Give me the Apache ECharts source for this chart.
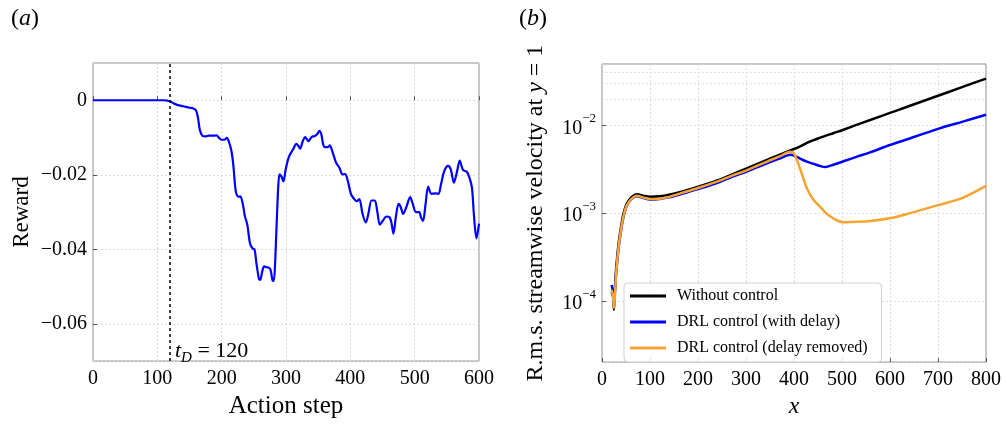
<!DOCTYPE html>
<html>
<head>
<meta charset="utf-8">
<script src="https://cdn.jsdelivr.net/npm/echarts@6/dist/echarts.min.js"></script>
<style>
html,body{margin:0;padding:0;background:#fff;}
#chart{width:1006px;height:424px;}
</style>
</head>
<body>
<div id="chart"></div>
<script>
// ---------- Panel (a): reward vs action step ----------
const actionSteps = [0,50,100,110,115,120,125,132,140,150,156,160,163,166,170,175,180,188,192,196,200,204,208,211,215,218,222,226,229,233,236,240,244,248,251,254,258,260,263,266,270,273,276,279,281,283,285.5,288,290,293,296,299,303,306,311,316,319,322,326,330,335,340,345,349,352,355,358,361,365,368,372,378,383,388,392,396,401,406,410,414,419,424,428,433,438,442,446,451,456,461,464,467,471,475,478,482,487,493,497,502,507,510,513,517,521,526,532,537,541,546,552,556,561,566,570,575,581,585,589,592,596,600];
const rewards = [0,0,0,0,-0.0001,-0.0003,-0.0008,-0.0013,-0.0016,-0.002,-0.0022,-0.0027,-0.0045,-0.0079,-0.0095,-0.0097,-0.0095,-0.0095,-0.0094,-0.0101,-0.0106,-0.0106,-0.0101,-0.011,-0.0135,-0.0172,-0.0245,-0.0259,-0.0258,-0.028,-0.031,-0.0335,-0.0384,-0.0398,-0.040,-0.0437,-0.048,-0.0482,-0.046,-0.0446,-0.0448,-0.0449,-0.0455,-0.0483,-0.0485,-0.044,-0.0331,-0.023,-0.0199,-0.0205,-0.0218,-0.019,-0.016,-0.0146,-0.0132,-0.0117,-0.0122,-0.013,-0.011,-0.0099,-0.011,-0.0098,-0.0096,-0.009,-0.0082,-0.0092,-0.012,-0.0126,-0.0126,-0.0121,-0.0137,-0.0168,-0.0181,-0.0199,-0.0198,-0.0216,-0.0252,-0.0265,-0.0271,-0.0265,-0.0305,-0.0328,-0.0305,-0.0269,-0.0269,-0.030,-0.0334,-0.0322,-0.0312,-0.0314,-0.033,-0.0358,-0.031,-0.0278,-0.0285,-0.0305,-0.0287,-0.026,-0.0278,-0.030,-0.030,-0.0315,-0.0324,-0.0278,-0.0232,-0.0251,-0.025,-0.0251,-0.0225,-0.019,-0.0176,-0.0185,-0.0221,-0.019,-0.0162,-0.0187,-0.0192,-0.0207,-0.0234,-0.0305,-0.0371,-0.0331];
const delayStep = 120;
const aXTicks = [0,100,200,300,400,500,600];
const aYTicks = [0,-0.02,-0.04,-0.06];

// ---------- Panel (b): r.m.s. streamwise velocity vs x ----------
const streamX = [20,23,25,27,30,35,40,45,52,62,73,87,100,120,140,170,205,245,275,300,345,370,392,400,413,427,441,455,465,476,490,503,530,560,600,630,700,750,800];
const withoutControl = [1.26e-4,1.12e-4,7.9e-5,1.41e-4,2.51e-4,4.68e-4,7.08e-4,1.0e-3,1.29e-3,1.53e-3,1.64e-3,1.57e-3,1.53e-3,1.55e-3,1.62e-3,1.78e-3,2.04e-3,2.40e-3,2.82e-3,3.20e-3,4.07e-3,4.62e-3,5.19e-3,5.37e-3,5.75e-3,6.31e-3,6.79e-3,7.24e-3,7.59e-3,7.94e-3,8.41e-3,8.91e-3,0.0101,0.01156,0.01387,0.01585,0.02173,0.02723,0.03412];
const drlWithDelay = [1.51e-4,1.26e-4,9.5e-5,1.26e-4,2.24e-4,4.17e-4,6.46e-4,9.12e-4,1.22e-3,1.45e-3,1.55e-3,1.48e-3,1.43e-3,1.45e-3,1.51e-3,1.68e-3,1.91e-3,2.26e-3,2.63e-3,2.95e-3,3.72e-3,4.17e-3,4.62e-3,4.52e-3,4.17e-3,3.85e-3,3.63e-3,3.43e-3,3.35e-3,3.47e-3,3.67e-3,3.89e-3,4.37e-3,4.95e-3,5.96e-3,6.76e-3,9.12e-3,0.01096,0.01318];
const drlDelayRemoved = [1.32e-4,1.12e-4,8.3e-5,1.17e-4,2.24e-4,4.27e-4,6.61e-4,9.33e-4,1.23e-3,1.46e-3,1.57e-3,1.50e-3,1.45e-3,1.46e-3,1.53e-3,1.72e-3,1.97e-3,2.34e-3,2.72e-3,3.05e-3,3.89e-3,4.42e-3,5.01e-3,4.79e-3,3.16e-3,1.91e-3,1.41e-3,1.17e-3,1.02e-3,9.12e-4,8.22e-4,7.85e-4,7.94e-4,8.13e-4,8.71e-4,9.55e-4,1.23e-3,1.48e-3,2.04e-3];
const seriesNames = ['Without control','DRL control (with delay)','DRL control (delay removed)'];
const bXTicks = [0,100,200,300,400,500,600,700,800];
const bYTicks = [1e-4,1e-3,1e-2];

// minor log grid positions (2..9 x 10^n) for panel (b)
const bYMin = 2e-5, bYMax = 0.05;
const minorLog = [];
for (let e = -5; e <= -2; e++) {
  for (let k = 2; k <= 9; k++) {
    const v = k * Math.pow(10, e);
    if (v > bYMin * 1.0001 && v < bYMax * 0.9999) minorLog.push(v);
  }
}

const SERIF = '"Liberation Serif","DejaVu Serif",serif';
const gridLine = {show:true, lineStyle:{color:'#d4d4d4', type:[2,2], width:0.8}};

const chart = echarts.init(document.getElementById('chart'), null, {renderer:'canvas'});

const fmtA = v => {
  if (!aYTicks.some(t => Math.abs(t - v) < 1e-9)) return '';
  return v === 0 ? '0' : '\u2212' + Math.abs(v).toFixed(2);
};
const fmtB = v => {
  if (!bYTicks.some(t => Math.abs(t - v) / t < 1e-6)) return '';
  const e = Math.round(Math.log10(v));
  return '{b|10}{s|\u2212' + Math.abs(e) + '}';
};

const option = {
  backgroundColor: '#fff',
  animation: false,
  textStyle: {fontFamily: SERIF},
  title: [
    {text:'({i|a})', left: 6, top: 2, textStyle:{fontFamily:SERIF, fontSize:24, fontWeight:'normal', color:'#000', rich:{i:{fontFamily:SERIF, fontSize:24, fontStyle:'italic', color:'#000'}}}},
    {text:'({i|b})', left: 514, top: 2, textStyle:{fontFamily:SERIF, fontSize:24, fontWeight:'normal', color:'#000', rich:{i:{fontFamily:SERIF, fontSize:24, fontStyle:'italic', color:'#000'}}}}
  ],
  grid: [
    {left: 93, top: 63, width: 386, height: 303, show: true, borderColor: '#8a8a8a', borderWidth: 1, backgroundColor: 'transparent'},
    {left: 602, top: 64, width: 384, height: 302, show: true, borderColor: '#8a8a8a', borderWidth: 1, backgroundColor: 'transparent'}
  ],
  legend: {
    data: seriesNames,
    orient: 'vertical',
    left: 624, top: 283,
    itemWidth: 36, itemHeight: 14, itemGap: 10,
    padding: [5, 14, 6, 6],
    backgroundColor: 'rgba(255,255,255,0.85)',
    borderColor: '#d0d0d0', borderWidth: 1, borderRadius: 4,
    textStyle: {fontFamily: SERIF, fontSize: 16, color: '#000', padding: [0,0,0,6]},
    icon: 'path://M0,5.5 L36,5.5 L36,8.5 L0,8.5 Z'
  },
  xAxis: [
    {type:'value', gridIndex:0, min:0, max:600, interval:100,
     name:'Action step', nameLocation:'middle', nameGap: 32,
     nameTextStyle:{fontFamily:SERIF, fontSize:25, color:'#000'},
     axisLine:{show:false}, axisTick:{show:true, inside:true, length:4, lineStyle:{color:'#555'}},
     axisLabel:{fontFamily:SERIF, fontSize:20, color:'#000', margin:8},
     splitLine: gridLine},
    {type:'value', gridIndex:1, min:0, max:800, interval:100,
     name:'x', nameLocation:'middle', nameGap: 27,
     nameTextStyle:{fontFamily:SERIF, fontSize:24, fontStyle:'italic', color:'#000'},
     axisLine:{show:false}, axisTick:{show:true, inside:true, length:4, lineStyle:{color:'#555'}},
     axisLabel:{fontFamily:SERIF, fontSize:20, color:'#000', margin:8},
     splitLine: gridLine}
  ],
  yAxis: [
    {type:'value', gridIndex:0, min:-0.07, max:0.01, splitNumber:4,
     name:'Reward', nameLocation:'middle', nameGap: 60, nameRotate: 90,
     nameTextStyle:{fontFamily:SERIF, fontSize:23, color:'#000'},
     axisLine:{show:false}, axisTick:{show:true, inside:true, length:4, lineStyle:{color:'#555'}},
     axisLabel:{fontFamily:SERIF, fontSize:20, color:'#000', margin:6, formatter: fmtA, showMinLabel:false, showMaxLabel:false},
     splitLine: gridLine},
    {type:'log', gridIndex:1, logBase:10, min:bYMin, max:bYMax,
     name:'R.m.s. streamwise velocity at {i|y} = 1', nameLocation:'middle', nameGap: 54, nameRotate: 90,
     nameTextStyle:{fontFamily:SERIF, fontSize:24, color:'#000', rich:{i:{fontFamily:SERIF, fontSize:24, fontStyle:'italic', color:'#000'}}},
     axisLine:{show:false}, axisTick:{show:true, inside:true, length:4, lineStyle:{color:'#555'}},
     axisLabel:{fontFamily:SERIF, fontSize:20, color:'#000', margin:6, formatter: fmtB, showMinLabel:false, showMaxLabel:false,
       rich:{b:{fontFamily:SERIF, fontSize:20, color:'#000', lineHeight:26, verticalAlign:'bottom'},
             s:{fontFamily:SERIF, fontSize:13, color:'#000', lineHeight:26, verticalAlign:'top'}}},
     splitLine: gridLine}
  ],
  graphic: [
    {type:'text', left: 175, top: 336, z: 100,
     style:{text:'{t|t}{d|D}{n| = 120}', fill:'#000',
       rich:{t:{fontFamily:SERIF, fontSize:22, fontStyle:'italic', fill:'#000', lineHeight:30, verticalAlign:'top', padding:[4,0,0,0]},
             d:{fontFamily:SERIF, fontSize:15, fontStyle:'italic', fill:'#000', lineHeight:30, verticalAlign:'bottom'},
             n:{fontFamily:SERIF, fontSize:22, fill:'#000', lineHeight:30, verticalAlign:'top', padding:[4,0,0,0]}}}}
  ],
  series: [
    {name:'reward', type:'line', xAxisIndex:0, yAxisIndex:0,
     data: actionSteps.map((s,i)=>[s, rewards[i]]),
     showSymbol:false, symbol:'none', smooth:0.3,
     lineStyle:{color:'#0000ff', width:2.2}, itemStyle:{color:'#0000ff'},
     markLine:{silent:true, symbol:'none', label:{show:false}, z:5,
       lineStyle:{color:'#000', type:[3,3], width:1.5},
       data:[{xAxis: delayStep}]}},
    {name:'minor', type:'line', xAxisIndex:1, yAxisIndex:1, data:[], z:0,
     markLine:{silent:true, symbol:'none', label:{show:false}, animation:false, z:0,
       lineStyle:{color:'#dcdcdc', type:[2,2], width:0.8},
       data: minorLog.map(v=>({yAxis:v}))}},
    {name:seriesNames[0], type:'line', xAxisIndex:1, yAxisIndex:1, z:3,
     data: streamX.map((x,i)=>[x, withoutControl[i]]),
     showSymbol:false, symbol:'none', smooth:0.3,
     lineStyle:{color:'#000000', width:2.5}, itemStyle:{color:'#000000'}},
    {name:seriesNames[1], type:'line', xAxisIndex:1, yAxisIndex:1, z:3,
     data: streamX.map((x,i)=>[x, drlWithDelay[i]]),
     showSymbol:false, symbol:'none', smooth:0.3,
     lineStyle:{color:'#0000ff', width:2.5}, itemStyle:{color:'#0000ff'}},
    {name:seriesNames[2], type:'line', xAxisIndex:1, yAxisIndex:1, z:3,
     data: streamX.map((x,i)=>[x, drlDelayRemoved[i]]),
     showSymbol:false, symbol:'none', smooth:0.3,
     lineStyle:{color:'#f5a431', width:2.5}, itemStyle:{color:'#f5a431'}}
  ]
};
chart.setOption(option);
</script>
</body>
</html>
